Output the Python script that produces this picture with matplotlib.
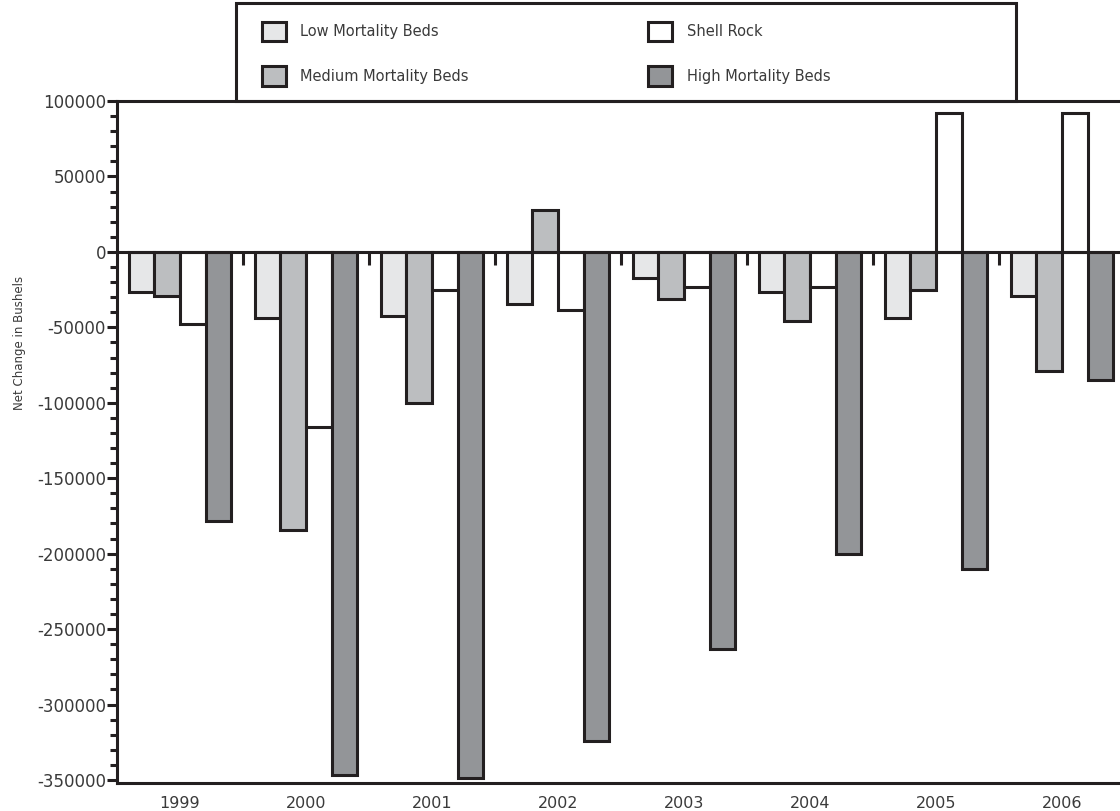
import matplotlib.pyplot as plt
import numpy as np
from matplotlib.patches import Rectangle

plt.rcParams['font.family'] = 'DejaVu Sans'

years = ['1999', '2000', '2001', '2002', '2003', '2004', '2005', '2006']
low = [-26500, -44000, -42500, -34500, -17500, -26500, -44000, -29000]
medium = [-29000, -184000, -100000, 28000, -31000, -46000, -25000, -79000]
shell = [-48000, -116000, -25000, -38500, -23000, -23000, 92000, 92000]
high = [-178500, -347000, -349000, -324000, -263500, -200000, -210000, -85000]

series = [('Low Mortality Beds', low, '#e6e7e8'),
          ('Medium Mortality Beds', medium, '#bcbec0'),
          ('Shell Rock', shell, 'white'),
          ('High Mortality Beds', high, '#939598')]

ink = '#231f20'
txt = '#3a3a3a'
lw = 2.2

fig = plt.figure(figsize=(11.2, 8.11), dpi=100)
ax = fig.add_axes([117/1120, 1 - 783/811, 1008/1120, (783 - 101)/811])

x = np.arange(len(years))
w = 0.2025
handles = {}
for k, (name, vals, col) in enumerate(series):
    b = ax.bar(x + (k - 1.5) * w, vals, w, color=col, edgecolor=ink,
               linewidth=lw, label=name, zorder=2)
    handles[name] = b

ax.axhline(0, color=ink, linewidth=lw, zorder=3)
# little separators between years, hanging under the zero line
ax.vlines(x[:-1] + 0.5, 0, -8600, color=ink, linewidth=lw, zorder=3)

ax.set_xlim(-0.5, len(years) - 0.5)
ax.set_ylim(-352000, 100000)
ax.set_yticks(np.arange(-350000, 100001, 50000))
ax.set_yticks(np.arange(-350000, 100001, 10000), minor=True)
ax.set_yticklabels([str(v) for v in range(-350000, 100001, 50000)])
ax.set_xticks(x)
ax.set_xticklabels(years)

for s in ax.spines.values():
    s.set_linewidth(lw)
    s.set_color(ink)

ax.tick_params(axis='y', which='major', length=7, width=lw, color=ink,
               labelsize=12, labelcolor=txt, pad=1)
ax.tick_params(axis='y', which='minor', length=5, width=lw, color=ink)
ax.tick_params(axis='x', length=0, labelsize=11.5, labelcolor=txt, pad=9)

fig.text(20/1120, 1 - 343/811, 'Net Change in Bushels', rotation=90,
         ha='center', va='center', fontsize=8.5, color=txt)

# legend box sitting on top of the axes
fig.patches.append(Rectangle((236/1120, 1 - 101/811), (1016 - 236)/1120,
                             (101 - 3)/811, transform=fig.transFigure,
                             fill=False, edgecolor=ink, linewidth=lw, zorder=5))
order = ['Low Mortality Beds', 'Medium Mortality Beds', 'Shell Rock', 'High Mortality Beds']
leg = fig.legend([handles[n] for n in order], order, ncol=2, frameon=False,
                 loc='upper left', bbox_to_anchor=(250/1120, 1 - 10/811),
                 fontsize=10.5, handlelength=1.65, handleheight=1.65,
                 handletextpad=1.0, labelspacing=1.75, columnspacing=12.3,
                 borderpad=0.3)
for t in leg.get_texts():
    t.set_color(txt)

fig.savefig('out.png', dpi=100)
